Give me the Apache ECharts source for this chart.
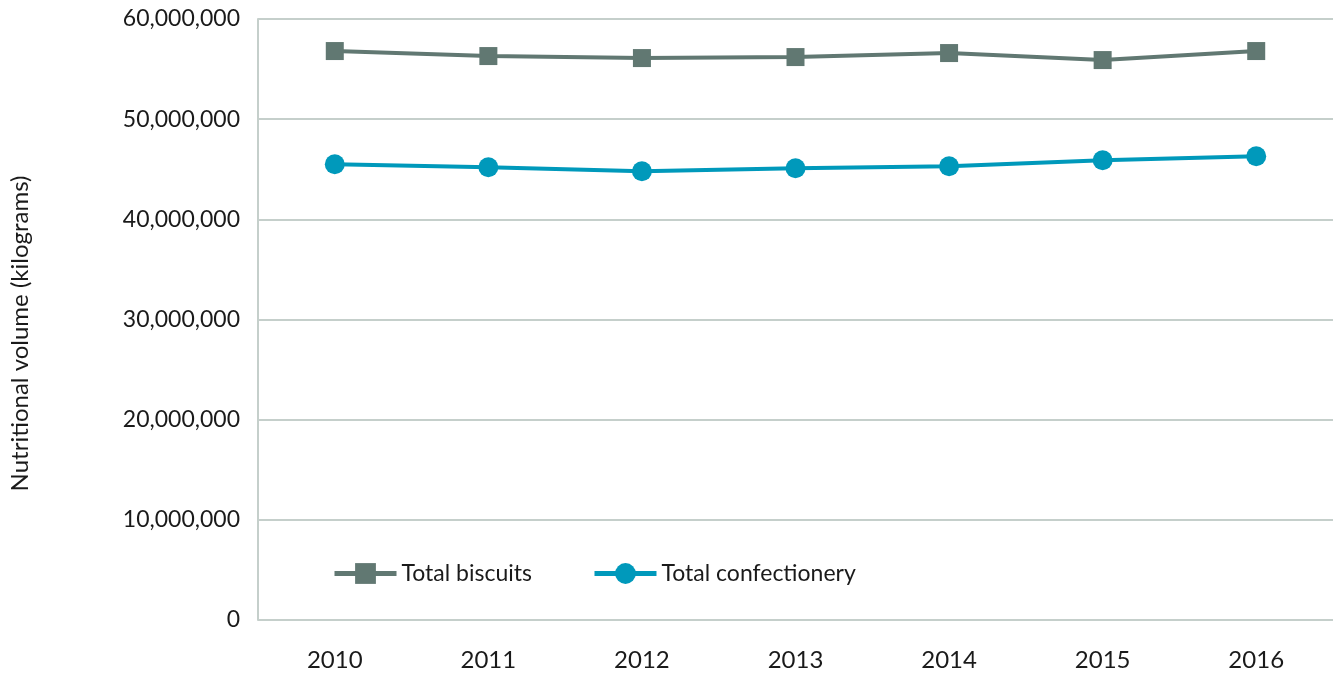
<!DOCTYPE html>
<html>
<head>
<meta charset="utf-8">
<script src="https://cdn.jsdelivr.net/npm/echarts@6/dist/echarts.min.js"></script>
<style>
  html, body { margin: 0; padding: 0; background: #fff; }
  #chart { width: 1333px; height: 674px; }
</style>
</head>
<body>
<div id="chart"></div>
<script>
const years = ['2010', '2011', '2012', '2013', '2014', '2015', '2016']
const biscuits = [56800000, 56300000, 56100000, 56200000, 56600000, 55900000, 56800000]
const confectionery = [45500000, 45200000, 44800000, 45100000, 45300000, 45900000, 46300000]

const chart = echarts.init(document.getElementById('chart'))
const font = 'Lato, "Noto Sans", sans-serif'

chart.setOption({
  animation: false,
  textStyle: { fontFamily: font },
  grid: { left: 258, right: 0, top: 19, bottom: 54 },
  legend: {
    left: 327,
    top: 557,
    itemWidth: 62,
    itemHeight: 26,
    itemGap: 60,
    lineStyle: { width: 5 },
    textStyle: { fontSize: 23, color: '#1a1a1a', fontFamily: font },
    data: ['Total biscuits', 'Total confectionery']
  },
  xAxis: {
    type: 'category',
    data: years,
    boundaryGap: true,
    axisLine: { show: false },
    axisTick: { show: false },
    axisLabel: { fontSize: 24, color: '#1a1a1a', margin: 28 }
  },
  yAxis: {
    type: 'value',
    min: 0,
    max: 60000000,
    interval: 10000000,
    name: 'Nutritional volume (kilograms)',
    nameLocation: 'middle',
    nameGap: 226,
    nameTextStyle: { fontSize: 24, color: '#1a1a1a', padding: [0, 28, 0, 0] },
    axisLine: { show: true, lineStyle: { color: '#c5cfcb', width: 2 } },
    axisTick: { show: false },
    splitLine: { lineStyle: { color: '#c5cfcb', width: 2 } },
    axisLabel: {
      fontSize: 23,
      color: '#1a1a1a',
      margin: 18,
      formatter: v => v.toLocaleString('en-US')
    }
  },
  series: [
    {
      name: 'Total biscuits',
      type: 'line',
      data: biscuits,
      symbol: 'rect',
      symbolSize: 18,
      color: '#617872',
      lineStyle: { width: 4, color: '#617872' },
      itemStyle: { color: '#617872' }
    },
    {
      name: 'Total confectionery',
      type: 'line',
      data: confectionery,
      symbol: 'circle',
      symbolSize: 20,
      color: '#0099bb',
      lineStyle: { width: 4, color: '#0099bb' },
      itemStyle: { color: '#0099bb' }
    }
  ]
})
</script>
</body>
</html>
